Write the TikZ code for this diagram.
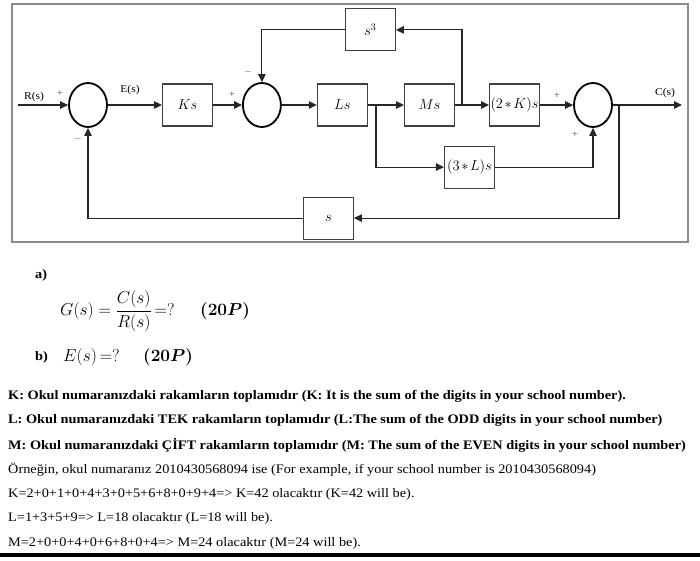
\documentclass[tikz,border=0pt]{standalone}
\usepackage{amsmath}
\usepackage{fontspec}
\setmainfont[FakeStretch=1.1]{Liberation Serif}
\usetikzlibrary{positioning, arrows.meta, shapes.geometric}

\begin{document}
\begin{tikzpicture}[
  x=1pt, y=-1pt,
  blk/.style={draw=black!75, line width=1.1pt, minimum width=50pt,
    minimum height=42pt, inner sep=0pt, font=\fontsize{14.5}{16}\selectfont},
  sumj/.style={draw=black, ellipse, line width=1.8pt, minimum width=38pt,
    minimum height=44pt, inner sep=0pt},
  arrow/.style={-{Triangle[length=8pt,width=7.5pt]}, line width=1.1pt, draw=black!85},
  sig/.style={font=\fontsize{10.5}{12}\selectfont, inner sep=0pt},
  sgn/.style={font=\fontsize{10}{11}\selectfont, text=black!70, inner sep=0pt},
  txt/.style={anchor=west, inner sep=0pt, font=\fontsize{13}{15}\selectfont},
  btxt/.style={txt, font=\bfseries\fontsize{13}{15}\selectfont},
  mth/.style={anchor=west, inner sep=0pt, font=\fontsize{16.5}{19}\selectfont},
]
  \useasboundingbox (0,0) rectangle (700,560);

  % frame of the block diagram
  \draw[black!45, line width=1.2pt] (12,4) rectangle (688,242);

  % forward path
  \node[sumj] (sum1) at (88,105) {};
  \node[blk, right=54pt of sum1] (ks) {$Ks$};
  \node[sumj, right=29pt of ks] (sum2) {};
  \node[blk, right=35pt of sum2] (ls) {$Ls$};
  \node[blk, right=36pt of ls] (ms) {$Ms$};
  \node[blk, right=34pt of ms] (k2) {$(2\mkern2mu{*}\mkern2mu K)s$};
  \node[sumj, right=33pt of k2] (sum3) {};

  % side blocks
  \node[blk, above=32pt of ls, xshift=28pt] (s3) {$s^3$};
  \node[blk, below=19pt of ms, xshift=40pt] (l3) {$(3\mkern2mu{*}\mkern2mu L)s$};
  \node[blk, below=70pt of ls, xshift=-14pt] (sfb) {$s$};

  \coordinate (in) at (18,105);
  \coordinate (out) at (682,105);
  \coordinate (b1) at (376,105);
  \coordinate (b2) at (462,105);
  \coordinate (b3) at (619,105);

  \draw[arrow] (in) -- (sum1);
  \foreach \a/\b in {sum1/ks, ks/sum2, sum2/ls, ls/ms, ms/k2, k2/sum3}
    \draw[arrow] (\a) -- (\b);
  \draw[arrow] (sum3) -- (out);

  \draw[arrow] (b2) |- (s3);
  \draw[arrow] (s3) -| (sum2);
  \draw[arrow] (b1) |- (l3);
  \draw[arrow] (l3) -| (sum3);
  \draw[arrow] (b3) |- (sfb);
  \draw[arrow] (sfb) -| (sum1);

  % signal names and signs
  \node[sig] (rl) at (34,97) {R(s)};
  \node[sig] (el) at (130,90) {E(s)};
  \node[sig] (cl) at (665,93) {C(s)};
  \node[sgn] (p1) at (60,94) {+};
  \node[sgn] (m1) at (78,139) {$-$};
  \node[sgn] (p2) at (232,95) {+};
  \node[sgn] (m2) at (248,72) {$-$};
  \node[sgn] (p3) at (557,96) {+};
  \node[sgn] (p4) at (575,135) {+};

  % questions
  \node[btxt] (qa) at (35,275) {a)};
  \node[mth] (ga) at (60,311) {$G(s)=\dfrac{C(s)}{R(s)}\,{=}?$};
  \node[mth] (pa) at (200,311) {$\boldsymbol{(20P)}$};
  \node[btxt] (qb) at (35,357) {b)};
  \node[mth] (eb) at (63,357) {$E(s)\,{=}?$};
  \node[mth] (pb) at (143,357) {$\boldsymbol{(20P)}$};

  % definitions
  \node[btxt] (t1) at (8,396) {K: Okul numaranızdaki rakamların toplamıdır (K: It is the sum of the digits in your school number).};
  \node[btxt] (t2) at (8,420.5) {L: Okul numaranızdaki TEK rakamların toplamıdır (L:The sum of the ODD digits in your school number)};
  \node[btxt] (t3) at (8,445) {M: Okul numaranızdaki ÇİFT rakamların toplamıdır (M: The sum of the EVEN digits in your school number)};
  \node[txt] (t4) at (8,469.5) {Örneğin, okul numaranız 2010430568094 ise (For example, if your school number is 2010430568094)};
  \node[txt] (t5) at (8,494) {K=2+0+1+0+4+3+0+5+6+8+0+9+4=> K=42 olacaktır (K=42 will be).};
  \node[txt] (t6) at (8,518.5) {L=1+3+5+9=> L=18 olacaktır (L=18 will be).};
  \node[txt] (t7) at (8,543) {M=2+0+0+4+0+6+8+0+4=> M=24 olacaktır (M=24 will be).};

  \fill[black] (0,553) rectangle (700,557);
\end{tikzpicture}
\end{document}
